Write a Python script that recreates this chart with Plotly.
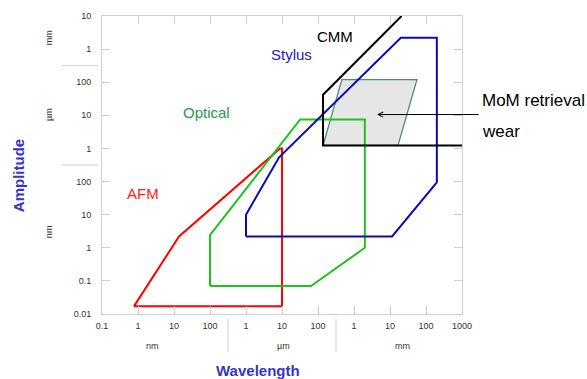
import plotly.graph_objects as go
import numpy as np

# ---- data (metres) ----
afm_x = [7.7e-10, 1.38e-8, 8.8e-6, 1.0e-5, 1.0e-5, 7.7e-10]
afm_y = [1.7e-11, 2.2e-9, 1.0e-6, 1.0e-6, 1.7e-11, 1.7e-11]

opt_x = [1.0e-7, 1.0e-7, 3.2e-5, 2.0e-3, 2.0e-3, 6.4e-5, 1.0e-7]
opt_y = [7.0e-11, 2.4e-9, 7.5e-6, 7.5e-6, 1.0e-9, 7.0e-11, 7.0e-11]

sty_x = [1.0e-6, 1.0e-6, 8.3e-6, 2.0e-2, 0.2, 0.2, 1.14e-2, 1.0e-6]
sty_y = [2.2e-9, 1.0e-8, 5.4e-7, 2.2e-3, 2.2e-3, 9.5e-8, 2.2e-9, 2.2e-9]

cmm_x = [1.0, 1.38e-4, 1.38e-4, 2.1e-2]
cmm_y = [1.23e-6, 1.23e-6, 4.2e-5, 1.0e-2]

mom_x = [1.38e-4, 4.6e-4, 5.6e-2, 1.67e-2, 1.38e-4]
mom_y = [1.23e-6, 1.2e-4, 1.2e-4, 1.23e-6, 1.23e-6]

x_tickvals = [10.0 ** k for k in range(-10, 1)]
x_ticktext = ["0.1", "1", "10", "100", "1", "10", "100", "1", "10", "100", "1000"]
y_tickvals = [10.0 ** k for k in range(-11, -1)]
y_ticktext = ["0.01", "0.1", "1", "10", "100", "1", "10", "100", "1", "10"]

XR = [-10, 0]
YR = [-11, -2]

def px_x(logv):
    return (logv - XR[0]) / (XR[1] - XR[0])

def px_y(logv):
    return (logv - YR[0]) / (YR[1] - YR[0])

fig = go.Figure()
fig.add_trace(go.Scatter(x=mom_x, y=mom_y, mode="lines", fill="toself",
                         fillcolor="#e6e6e6", line=dict(color="#4e8c74", width=1.3),
                         hoverinfo="skip"))
fig.add_trace(go.Scatter(x=afm_x, y=afm_y, mode="lines", line=dict(color="#ff0000", width=2)))
fig.add_trace(go.Scatter(x=opt_x, y=opt_y, mode="lines", line=dict(color="#22c022", width=2)))
fig.add_trace(go.Scatter(x=sty_x, y=sty_y, mode="lines", line=dict(color="#0a0ab8", width=2)))
fig.add_trace(go.Scatter(x=cmm_x, y=cmm_y, mode="lines", line=dict(color="#000000", width=2)))

axis_common = dict(type="log", showgrid=False, zeroline=False, showline=True,
                   linecolor="#cfcfcf", linewidth=1, ticks="inside", ticklen=8,
                   tickcolor="#cfcfcf", mirror="ticks", automargin=False,
                   tickfont=dict(family="Liberation Sans, Arial", size=9, color="#333333"))

fig.update_xaxes(range=XR, tickvals=x_tickvals, ticktext=x_ticktext,
                 ticklabelstandoff=3, **axis_common)
fig.update_yaxes(range=YR, tickvals=y_tickvals, ticktext=y_ticktext,
                 ticklabelstandoff=8, **axis_common)

lab = dict(family="Liberation Sans, Arial", size=15)
ann = [
    dict(text="AFM", x=0.114, y=0.403, font=dict(color="#ff2020", **lab)),
    dict(text="Optical", x=0.289, y=0.675, font=dict(color="#1f9a4c", **lab)),
    dict(text="Stylus", x=0.525, y=0.872, font=dict(color="#1a1acc", **lab)),
    dict(text="CMM", x=0.647, y=0.930, font=dict(color="#000000", **lab)),
    dict(text="MoM retrieval", x=1.050, y=0.718, xanchor="left",
         font=dict(color="#000000", family="Liberation Sans, Arial", size=17)),
    dict(text="wear", x=1.050, y=0.611, xanchor="left",
         font=dict(color="#000000", family="Liberation Sans, Arial", size=17)),
    dict(text="Amplitude", x=-0.233, y=0.463, textangle=-90,
         font=dict(family="Liberation Sans, Arial", size=15, color="#3535cc", weight="bold")),
    dict(text="Wavelength", x=0.433, y=-0.19,
         font=dict(family="Liberation Sans, Arial", size=15, color="#3535cc", weight="bold")),
]
unit_font = dict(family="Liberation Sans, Arial", size=9, color="#333333")
ann += [
    dict(text="nm", x=0.139, y=-0.107, font=unit_font),
    dict(text="µm", x=0.503, y=-0.107, font=unit_font),
    dict(text="mm", x=0.836, y=-0.107, font=unit_font),
    dict(text="mm", x=-0.147, y=0.926, textangle=-90, font=unit_font),
    dict(text="µm", x=-0.147, y=0.668, textangle=-90, font=unit_font),
    dict(text="nm", x=-0.147, y=0.275, textangle=-90, font=unit_font),
]
for a in ann:
    a.setdefault("xanchor", "center")
    a.update(xref="paper", yref="paper", yanchor="middle", showarrow=False)
    fig.add_annotation(**a)

# arrow pointing into MoM region
fig.add_annotation(xref="paper", yref="paper", x=px_x(-2.361), y=px_y(-4.976),
                   ax=103, ay=0, axref="pixel", ayref="pixel",
                   text="", showarrow=True, arrowhead=5, arrowsize=1, arrowwidth=1,
                   arrowcolor="#000000")

# unit group separators
sep = dict(type="line", xref="paper", yref="paper", line=dict(color="#cfcfcf", width=1))
for lx in (-6.5, -3.5):
    fig.add_shape(x0=px_x(lx), x1=px_x(lx), y0=-0.017, y1=-0.128, **sep)
for ly in (-3.5, -6.5):
    fig.add_shape(x0=-0.111, x1=-0.011, y0=px_y(ly), y1=px_y(ly), **sep)

fig.update_layout(width=587, height=379, margin=dict(l=102, r=125, t=16, b=65),
                  paper_bgcolor="white", plot_bgcolor="white", showlegend=False)

fig.write_html("out.html", config={"displayModeBar": False},
               post_script="document.body.style.margin='0';document.body.style.overflow='hidden';")
